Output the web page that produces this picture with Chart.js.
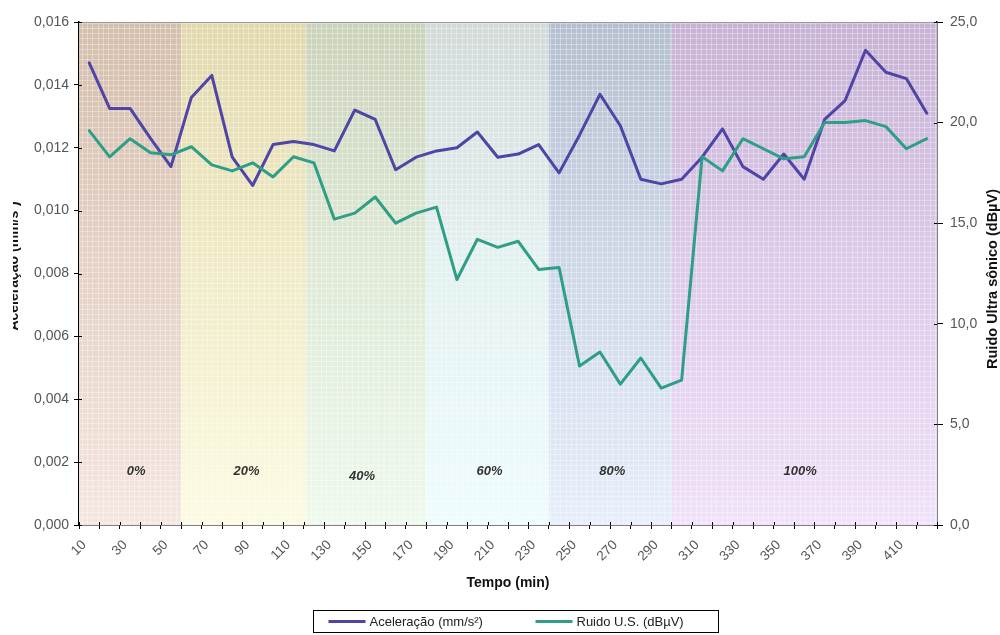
<!DOCTYPE html>
<html>
<head>
<meta charset="utf-8">
<script src="https://cdn.jsdelivr.net/npm/chart.js@4.4.1/dist/chart.umd.min.js"></script>
<style>
  html, body { margin: 0; padding: 0; background: #ffffff; }
  #wrap { width: 1000px; height: 635px; position: relative; }
</style>
</head>
<body>
<div id="wrap"><canvas id="grafico" width="1000" height="635"></canvas></div>
<script>
// Tempo de ensaio (min)
const tempos = ['10','20','30','40','50','60','70','80','90','100',
                '110','120','130','140','150','160','170','180','190','200',
                '210','220','230','240','250','260','270','280','290','300',
                '310','320','330','340','350','360','370','380','390','400',
                '410','420'];

// Aceleração (mm/s²) – eixo da esquerda
const aceleracao = [0.0147, 0.01325, 0.01325, 0.0123, 0.0114, 0.0136, 0.0143, 0.0117, 0.0108, 0.0121,
                    0.0122, 0.0121, 0.0119, 0.0132, 0.0129, 0.0113, 0.0117, 0.0119, 0.0120, 0.0125,
                    0.0117, 0.0118, 0.0121, 0.0112, 0.0124, 0.0137, 0.0127, 0.0110, 0.01085, 0.0110,
                    0.0117, 0.0126, 0.0114, 0.0110, 0.0118, 0.0110, 0.0129, 0.0135, 0.0151, 0.0144,
                    0.0142, 0.0131];

// Ruído ultrassônico (dBµV) – eixo da direita
const ruido = [19.6, 18.3, 19.2, 18.5, 18.4, 18.8, 17.9, 17.6, 18.0, 17.3,
               18.3, 18.0, 15.2, 15.5, 16.3, 15.0, 15.5, 15.8, 12.2, 14.2,
               13.8, 14.1, 12.7, 12.8, 7.9, 8.6, 7.0, 8.3, 6.8, 7.2,
               18.3, 17.6, 19.2, 18.7, 18.2, 18.3, 20.0, 20.0, 20.1, 19.8,
               18.7, 19.2];

// Faixas de carga (rótulos e limites em unidades de categoria)
const faixas = ['0%', '20%', '40%', '60%', '80%', '100%'];
const limitesFaixas = [-0.5, 4.5, 10.6, 16.5, 22.5, 28.5, 41.5];

// Escalas
const escalaAcel = { min: 0, max: 0.016, passo: 0.002 };
const escalaRuido = { min: 0, max: 25, passo: 5 };

// Estilo das faixas: gradiente vertical (topo, meio, base)
const coresFaixas = [
  ['#d4bfac', '#e4d0c4', '#f5e6e0'],
  ['#e2d8ae', '#efeac4', '#fcfbe2'],
  ['#cbd2ba', '#dee8d4', '#eef9ed'],
  ['#d2dad8', '#e3f0f0', '#effcfd'],
  ['#b4bfd0', '#ccd6e7', '#e7eefb'],
  ['#c7b3d4', '#dbc9e8', '#f0e2f9']
];
// Posição dos rótulos das faixas: [índice de categoria, valor no eixo da esquerda]
const posRotulosFaixas = [[2.3, 0.00172], [7.7, 0.00172], [13.35, 0.00155], [19.6, 0.00172], [25.6, 0.00172], [34.8, 0.00172]];

const FONTE = "'Liberation Sans', Arial, sans-serif";
const COR_ACEL = '#4f45a6';
const COR_RUIDO = '#2f9e86';

const fundoEDetalhes = {
  id: 'fundoEDetalhes',
  beforeDatasetsDraw(chart) {
    const { ctx, chartArea: a, scales: { x, y } } = chart;
    ctx.save();
    ctx.beginPath();
    ctx.rect(a.left, a.top, a.right - a.left, a.bottom - a.top);
    ctx.clip();
    // faixas de carga
    for (let i = 0; i < faixas.length; i++) {
      const x0 = x.getPixelForValue(limitesFaixas[i]);
      const x1 = x.getPixelForValue(limitesFaixas[i + 1]);
      const g = ctx.createLinearGradient(0, a.top, 0, a.bottom);
      g.addColorStop(0, coresFaixas[i][0]);
      g.addColorStop(0.45, coresFaixas[i][1]);
      g.addColorStop(1, coresFaixas[i][2]);
      ctx.fillStyle = g;
      ctx.fillRect(x0, a.top, x1 - x0, a.bottom - a.top);
    }
    // textura quadriculada fina
    ctx.strokeStyle = 'rgba(255,255,255,0.32)';
    ctx.lineWidth = 1;
    ctx.beginPath();
    for (let px = a.left + 3; px < a.right; px += 5.2) {
      const xx = Math.round(px) + 0.5;
      ctx.moveTo(xx, a.top); ctx.lineTo(xx, a.bottom);
    }
    for (let py = a.bottom - 3; py > a.top; py -= 5.2) {
      const yy = Math.round(py) + 0.5;
      ctx.moveTo(a.left, yy); ctx.lineTo(a.right, yy);
    }
    ctx.stroke();
    // rótulos das faixas
    ctx.fillStyle = '#333333';
    ctx.font = 'italic bold 13px ' + FONTE;
    ctx.textAlign = 'center';
    ctx.textBaseline = 'middle';
    faixas.forEach((t, i) => {
      ctx.fillText(t, x.getPixelForValue(posRotulosFaixas[i][0]), y.getPixelForValue(posRotulosFaixas[i][1]));
    });
    ctx.restore();
  },
  afterDraw(chart) {
    const { ctx, chartArea: a, scales: { x, y, y1 } } = chart;
    ctx.save();
    // borda superior da área do gráfico
    ctx.strokeStyle = '#9a9a9a';
    ctx.lineWidth = 1;
    ctx.beginPath();
    ctx.moveTo(a.left, a.top + 0.5);
    ctx.lineTo(a.right, a.top + 0.5);
    ctx.stroke();

    // parte interna das marcas de escala (marcas cruzadas)
    ctx.strokeStyle = '#000';
    ctx.lineWidth = 1;
    ctx.beginPath();
    y.ticks.forEach(t => {
      const py = Math.round(y.getPixelForValue(t.value)) + 0.5;
      ctx.moveTo(a.left, py); ctx.lineTo(a.left + 3, py);
    });
    y1.ticks.forEach(t => {
      const py = Math.round(y1.getPixelForValue(t.value)) + 0.5;
      ctx.moveTo(a.right, py); ctx.lineTo(a.right - 3, py);
    });
    for (let k = 0; k <= tempos.length; k++) {
      const px = Math.round(x.getPixelForValue(k - 0.5)) + 0.5;
      ctx.moveTo(px, a.bottom); ctx.lineTo(px, a.bottom - 3);
    }
    ctx.stroke();

    // título do eixo da esquerda (cortado na margem)
    ctx.save();
    ctx.beginPath();
    ctx.rect(13, 0, 40, chart.height);
    ctx.clip();
    ctx.translate(18, 266);
    ctx.rotate(-Math.PI / 2);
    ctx.fillStyle = '#111';
    ctx.font = 'bold 14px ' + FONTE;
    ctx.textAlign = 'center';
    ctx.textBaseline = 'alphabetic';
    ctx.fillText('Aceleração (mm/s²)', 0, 0);
    ctx.restore();

    // título do eixo da direita
    ctx.save();
    ctx.translate(992.5, 279);
    ctx.rotate(-Math.PI / 2);
    ctx.fillStyle = '#111';
    ctx.font = 'bold 14.5px ' + FONTE;
    ctx.textAlign = 'center';
    ctx.textBaseline = 'middle';
    ctx.fillText('Ruido Ultra sônico (dBµV)', 0, 0);
    ctx.restore();

    // legenda com moldura
    const cx = (a.left + a.right) / 2 + 7;
    const lw = 405, lh = 22;
    const lx = Math.round(cx - lw / 2) + 0.5;
    const ly = 610.5;
    ctx.fillStyle = '#ffffff';
    ctx.fillRect(lx, ly, lw, lh);
    ctx.strokeStyle = '#000';
    ctx.lineWidth = 1;
    ctx.strokeRect(lx, ly, lw, lh);
    const midY = ly + lh / 2;
    ctx.font = '13px ' + FONTE;
    ctx.textBaseline = 'middle';
    ctx.textAlign = 'left';
    chart.data.datasets.slice().sort((p, q) => p.legendaPos - q.legendaPos).forEach((ds, i) => {
      const x0 = lx + 15 + i * 207;
      ctx.strokeStyle = ds.borderColor;
      ctx.lineWidth = 3;
      ctx.beginPath();
      ctx.moveTo(x0, midY); ctx.lineTo(x0 + 37, midY);
      ctx.stroke();
      ctx.fillStyle = '#222';
      ctx.fillText(ds.label, x0 + 41, midY + 0.5);
    });
    ctx.restore();
  }
};

const ticksFonte = { family: FONTE, size: 14 };

new Chart(document.getElementById('grafico'), {
  type: 'line',
  data: {
    labels: tempos,
    datasets: [
      {
        label: 'Ruido U.S. (dBµV)',
        data: ruido,
        yAxisID: 'y1',
        borderColor: COR_RUIDO,
        backgroundColor: COR_RUIDO,
        order: 0,
        legendaPos: 1
      },
      {
        label: 'Aceleração (mm/s²)',
        data: aceleracao,
        yAxisID: 'y',
        borderColor: COR_ACEL,
        backgroundColor: COR_ACEL,
        order: 1,
        legendaPos: 0
      }
    ]
  },
  options: {
    responsive: false,
    animation: false,
    devicePixelRatio: 1,
    layout: { padding: { top: 22, left: 0, right: 0, bottom: 40 } },
    elements: {
      point: { radius: 0, hoverRadius: 0 },
      line: { tension: 0, borderWidth: 3, borderJoinStyle: 'round', borderCapStyle: 'round', fill: false }
    },
    plugins: {
      legend: { display: false },
      tooltip: { enabled: false }
    },
    scales: {
      x: {
        type: 'category',
        offset: true,
        grid: { offset: true, drawOnChartArea: false, drawTicks: true, tickLength: 4, color: '#000', lineWidth: 1 },
        border: { color: '#000', width: 1.5 },
        ticks: {
          autoSkip: false,
          maxRotation: 45,
          minRotation: 45,
          padding: 8,
          labelOffset: -5,
          color: '#555',
          font: { family: FONTE, size: 13.5 },
          callback(v, i) { return i % 2 === 0 ? this.getLabelForValue(v) : ''; }
        },
        title: {
          display: true,
          text: 'Tempo (min)',
          color: '#111',
          font: { family: FONTE, size: 14, weight: 'bold' },
          padding: { top: 0, bottom: 3 }
        },
        afterFit(s) { s.height = 70; }
      },
      y: {
        position: 'left',
        min: escalaAcel.min,
        max: escalaAcel.max,
        grid: { drawOnChartArea: false, tickLength: 5, color: '#000', lineWidth: 1 },
        border: { color: '#000', width: 1.5 },
        ticks: {
          stepSize: escalaAcel.passo,
          padding: 5,
          color: '#555',
          font: ticksFonte,
          callback: v => v.toFixed(3).replace('.', ',')
        },
        afterFit(s) { s.width = 79; }
      },
      y1: {
        position: 'right',
        min: escalaRuido.min,
        max: escalaRuido.max,
        grid: { drawOnChartArea: false, tickLength: 6, color: '#000', lineWidth: 1 },
        border: { color: '#000', width: 1.5 },
        ticks: {
          stepSize: escalaRuido.passo,
          padding: 7,
          color: '#555',
          font: ticksFonte,
          callback: v => v.toFixed(1).replace('.', ',')
        },
        afterFit(s) { s.width = 63; }
      }
    }
  },
  plugins: [fundoEDetalhes]
});
</script>
</body>
</html>
